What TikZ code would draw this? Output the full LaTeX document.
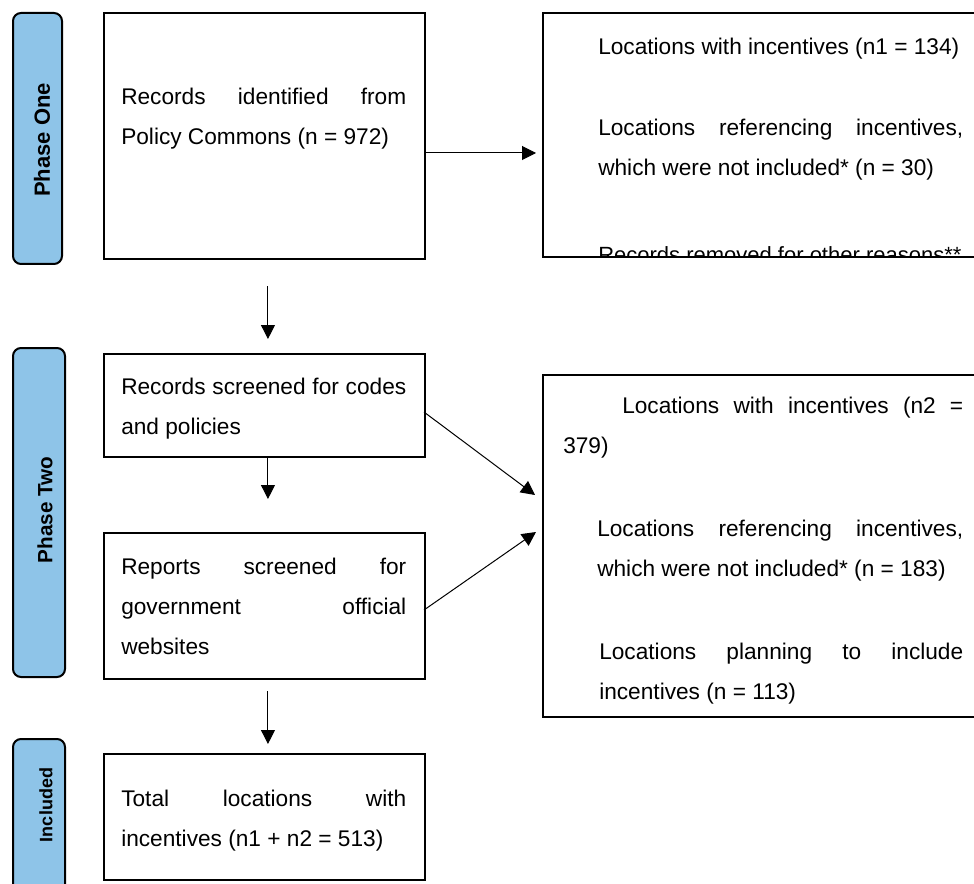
\documentclass[tikz,border=0pt]{standalone}
\usepackage{fontspec}
\setmainfont{Liberation Sans}
\usetikzlibrary{arrows.meta}
\definecolor{phaseblue}{RGB}{142,196,232}

\begin{document}
\begin{tikzpicture}[x=0.75pt,y=-0.75pt,
	box/.style={draw,line width=1.5pt,inner sep=0pt},
	phase/.style={draw,line width=1.5pt,fill=phaseblue,rounded corners=6pt,inner sep=0pt},
	phasetext/.style={rotate=90,inner sep=0pt},
	para/.style={inner sep=0pt,anchor=north west,align=justify,font=\fontsize{17}{30}\selectfont},
	arr/.style={line width=0.75pt,-{Triangle[length=10.5pt,width=10.5pt]}}]
	\useasboundingbox (0,0) rectangle (974,884);
	\clip (0,0) rectangle (974,884);
	% phase labels
	\node[phase,minimum width=49*0.75pt,minimum height=251*0.75pt] (one) at (37.5,138.5) {};
	\node[phasetext,font=\fontsize{16.5}{18}\selectfont\bfseries] (onetxt) at (42,140) {Phase One};
	\node[phase,minimum width=52*0.75pt,minimum height=329*0.75pt] (two) at (39,512.5) {};
	\node[phasetext,font=\fontsize{15.5}{18}\selectfont\bfseries] (twotxt) at (45,510) {Phase Two};
	\node[phase,minimum width=52*0.75pt,minimum height=161*0.75pt] (incl) at (39,819.5) {};
	\node[phasetext,font=\fontsize{13.5}{16}\selectfont\bfseries] (incltxt) at (46,805) {Included};
	% boxes
	\node[box,minimum width=321*0.75pt,minimum height=246*0.75pt] (ident) at (264.5,136) {};
	\node[box,minimum width=447*0.75pt,minimum height=244*0.75pt] (locs1) at (766.5,135) {};
	\node[box,minimum width=321*0.75pt,minimum height=103*0.75pt] (screen) at (264.5,405.5) {};
	\node[box,minimum width=321*0.75pt,minimum height=146*0.75pt] (reports) at (264.5,606) {};
	\node[box,minimum width=447*0.75pt,minimum height=342*0.75pt] (locs2) at (766.5,546) {};
	\node[box,minimum width=321*0.75pt,minimum height=126*0.75pt] (total) at (264.5,817) {};
	% texts
	\node[para,text width=213.75pt] (identtxt) at (121,76.5) {\strut Records identified from\linebreak Policy Commons (n = 972)};
	\node[para,text width=273.75pt] (locsa) at (598,26.5) {\strut Locations with incentives (n1 = 134)};
	\node[para,text width=273.75pt] (locsb) at (598,107.5) {\strut Locations referencing incentives,\linebreak which were not included* (n = 30)};
	\begin{scope}
		\clip (locs1.north west) rectangle (locs1.south east);
		\node[para,font=\fontsize{16.5}{30}\selectfont] (locsc) at (598,234.5) {\strut Records removed for other reasons**};
	\end{scope}
	\node[para,text width=213.75pt] (screentxt) at (121,366.5) {\strut Records screened for codes\linebreak and policies};
	\node[para,text width=213.75pt] (reportstxt) at (121,546.5) {\strut Reports screened for\linebreak government official\linebreak websites};
	\node[para,text width=300pt] (locsd) at (563,385.5) {\strut\hspace*{44.25pt}Locations with incentives (n2 =\linebreak 379)};
	\node[para,text width=274.5pt] (locse) at (597,508.5) {\strut Locations referencing incentives,\linebreak which were not included* (n = 183)};
	\node[para,text width=273pt] (locsf) at (599,631.5) {\strut Locations planning to include\linebreak incentives (n = 113)};
	\node[para,text width=213.75pt] (totaltxt) at (121,778.5) {\strut Total locations with\linebreak incentives (n1 + n2 = 513)};
	% connectors
	\draw[arr] ([yshift=-12.75pt]ident.east) -- ([xshift=-4.5pt,yshift=-13.5pt]locs1.west);
	\draw[arr] ([xshift=2.6pt,yshift=-19.5pt]ident.south) -- ([xshift=2.6pt,yshift=10.5pt]screen.north);
	\draw[arr] ([xshift=2.6pt]screen.south) -- ([xshift=2.6pt,yshift=24.75pt]reports.north);
	\draw[arr] ([xshift=2.6pt,yshift=-8.25pt]reports.south) -- ([xshift=2.6pt,yshift=6.75pt]total.north);
	\draw[arr] ([xshift=-1.5pt,yshift=-4.9pt]screen.east) -- ([xshift=-5.25pt,yshift=38.25pt]locs2.west);
	\draw[arr] ([xshift=-1.5pt,yshift=-3pt]reports.east) -- ([xshift=-4.5pt,yshift=10.5pt]locs2.west);
\end{tikzpicture}
\end{document}
